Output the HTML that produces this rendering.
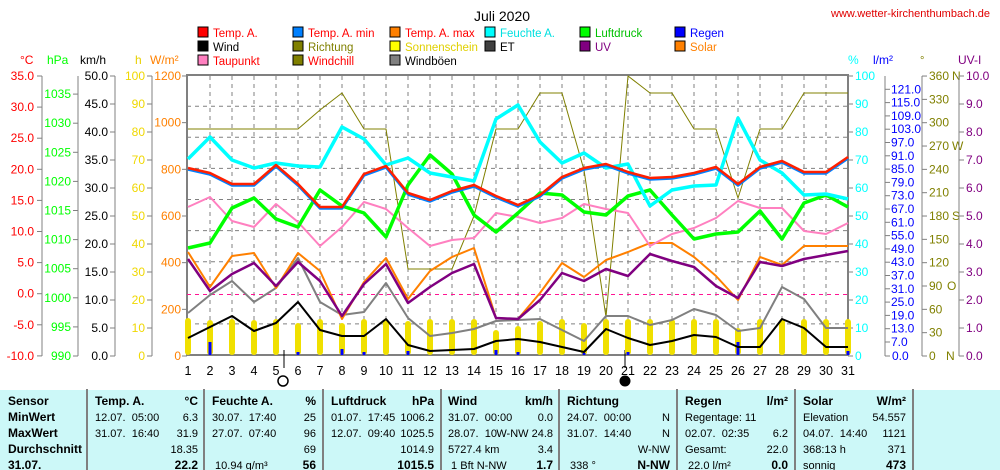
<!DOCTYPE html>
<html><head><meta charset="utf-8"><style>
body{margin:0;background:#fff;width:1000px;height:470px;overflow:hidden}
svg{display:block;font-family:"Liberation Sans",Arial,sans-serif}
</style></head><body>
<svg id="s" width="1000" height="470" xmlns="http://www.w3.org/2000/svg"></svg>
<script>
const S=document.getElementById('s');let h='';
const X=d=>188+(d-1)*22;
function T(x,y,t,c,sz,anc,w){h+=`<text x="${x}" y="${y}" fill="${c}" font-size="${sz||12}" text-anchor="${anc||'start'}" ${w?'font-weight="bold"':''}>${t}</text>`;}
function L(x1,y1,x2,y2,c,w,da){h+=`<line x1="${x1}" y1="${y1}" x2="${x2}" y2="${y2}" stroke="${c}" stroke-width="${w||1}" ${da?`stroke-dasharray="${da}"`:''}/>`;}
function P(arr,c,w){h+=`<polyline fill="none" stroke="${c}" stroke-width="${w}" stroke-linejoin="round" points="${arr.map((y,i)=>X(i+1)+','+y).join(' ')}"/>`;}
T(502,21,'Juli 2020','#000',14,'middle');
T(990,17,'www.wetter-kirchenthumbach.de','#e00000',11,'end');
const leg=[[198,37,'#ff0000','Temp. A.','#ff0000'],[293,37,'#0080ff','Temp. A. min','#ff0000'],[390,37,'#ff8000','Temp. A. max','#ff0000'],[485,37,'#00ffff','Feuchte A.','#00e0e0'],[580,37,'#00ff00','Luftdruck','#00c000'],[675,37,'#0000ff','Regen','#0000ff'],
[198,51,'#000000','Wind','#000'],[293,51,'#808000','Richtung','#808000'],[390,51,'#ffff00','Sonnenschein','#e0d000'],[485,51,'#404040','ET','#000'],[580,51,'#800080','UV','#800080'],[675,51,'#ff8000','Solar','#ff8000'],
[198,65,'#ff80c0','Taupunkt','#ff0000'],[293,65,'#808000','Windchill','#ff0000'],[390,65,'#808080','Windböen','#000']];
leg.forEach(l=>{h+=`<rect x="${l[0]}" y="${l[1]-10}" width="10" height="10" fill="${l[2]}" stroke="#000" stroke-width="1"/>`;T(l[0]+15,l[1],l[3],l[4],11.5);});
T(20,64,'°C','#ff0000');T(47,64,'hPa','#00ff00');T(80,64,'km/h','#000');T(135,64,'h','#e8d000');T(150,64,'W/m²','#ff8000');
T(848,64,'%','#00ffff');T(873,64,'l/m²','#0000ff');T(920,64,'°','#808000',11);T(958,64,'UV-I','#800080');
for(let d=2;d<=30;d++)L(X(d),76,X(d),355,'#808080',1,'4,4');
for(let k=1;k<9;k++){if(k==2)continue;let y=355-k*31.1;L(187,y,848,y,'#808080',1,'4,4');}
h+=`<rect x="187" y="75" width="661" height="280" fill="none" stroke="#808080" stroke-width="2"/>`;
const F=12;
L(42,76,42,356,'#808080');for(let i=0;i<10;i++){let y=76+i*31.1,v=35-5*i;L(37,y,42,y,'#808080');T(34,y+4,v.toFixed(1),'#ff0000',F,'end');}
L(78,76,78,356,'#808080');for(let i=0;i<10;i++){let y=356-i*29.1,v=990+5*i;L(73,y,78,y,'#808080');T(71,y+4,v,'#00ff00',F,'end');}
L(115,76,115,356,'#808080');for(let i=0;i<11;i++){let y=356-i*28;L(110,y,115,y,'#808080');T(108,y+4,(5*i).toFixed(1),'#000',F,'end');}
L(152,76,152,356,'#808080');for(let i=0;i<11;i++){let y=356-i*28;L(147,y,152,y,'#808080');T(145,y+4,10*i,'#f0d800',F,'end');}
for(let i=0;i<7;i++){let y=356-i*46.67;L(182,y,187,y,'#808080');T(181,y+4,200*i,'#ff8000',F,'end');}
for(let i=0;i<11;i++){let y=356-i*28;L(848,y,853,y,'#808080');T(855,y+4,10*i,'#00ffff',F);}
L(885,76,885,356,'#808080');L(885,356,890,356,'#808080');T(892,360,'0.0','#0000ff',F);
for(let i=0;i<20;i++){let y=342-i*13.3;L(885,y,890,y,'#808080');T(891,y+4,(7+6*i).toFixed(1),'#0000ff',F);}
L(922,76,922,356,'#808080');
for(let i=0;i<13;i++){let y=356-i*23.33;L(922,y,927,y,'#808080');T(929,y+4,String(30*i),'#808000',F);if(i==0)T(946,y+4,'N','#808000',F);if(i==3)T(947,y+4,'O','#808000',F);if(i==6)T(952,y+4,'S','#808000',F);if(i==9)T(952,y+4,'W','#808000',F);if(i==12)T(952,y+4,'N','#808000',F);}
L(959,76,959,356,'#808080');for(let i=0;i<11;i++){let y=356-i*28;L(959,y,964,y,'#808080');T(966,y+4,i.toFixed(1),'#800080',F);}
for(let d=1;d<=31;d++)T(X(d),375,d,'#000',12.5,'middle');
L(284,350,284,368,'#000');h+=`<circle cx="283" cy="381" r="5" fill="none" stroke="#000" stroke-width="1.5"/>`;
L(625,350,625,368,'#000');h+=`<circle cx="625" cy="381" r="5" fill="#000" stroke="#000"/>`;
const sun=[318,320,319,320,319,323,319,323,319,320,321,319,319,319,330,326,321,319,323,319,319,319,319,319,319,328,319,319,319,319,319];
sun.forEach((y,i)=>h+=`<rect x="${X(i+1)-3}" y="${y}" width="6" height="${355-y}" rx="3" fill="#f0e000"/>`);
const rain={2:342,6:352,8:349,9:352,11:351,15:350,16:352,19:353,21:352,26:342,31:351};
for(const d in rain)h+=`<rect x="${X(+d)-1.5}" y="${rain[d]}" width="3" height="${355-rain[d]}" fill="#0000ff"/>`;
L(187,294.5,848,294.5,'#ff1493',1,'4,4');
P([129,129,129,129,129,129,110,93,129,129,269,269,269,216,129,129,93,93,170,317,76,93,93,129,129,198,129,129,93,93,93],'#808000',1);
P([313,295,281,302,288,258,302,315,312,283,318,336,333,329,321,320,319,330,341,316,316,325,320,309,315,331,328,287,299,328,328],'#808080',2);
P([338,327,316,331,323,302,330,336,336,319,345,351,350,349,341,339,342,347,352,329,338,345,341,335,337,347,347,319,328,347,347],'#000',2);
P([252,287,256,253,288,253,271,319,282,258,299,271,257,248,318,319,293,263,277,260,252,243,243,257,276,300,257,265,246,246,246],'#ff8000',2);
P([259,291,274,263,286,262,281,316,284,264,303,287,273,264,318,319,300,273,281,269,276,254,261,267,286,298,262,266,259,255,251],'#800080',2.5);
P([207,197,221,227,204,222,246,227,202,209,228,246,240,238,213,217,223,218,204,209,213,246,234,228,218,201,208,208,231,234,223],'#ff80c0',2);
P([248,243,208,198,219,227,190,206,213,237,185,155,174,215,232,213,193,195,212,215,196,190,215,239,234,232,211,239,203,195,207],'#00ff00',3.5);
P([159,137,160,168,163,166,167,127,139,165,158,173,177,181,119,105,142,163,153,168,164,206,190,186,185,118,160,173,195,194,199],'#00ffff',3.5);
const tmp=[168,173,184,184,165,184,207,207,174,166,193,200,191,185,196,205,195,177,168,164,172,178,177,173,167,184,167,161,172,172,157];
P(tmp.map(y=>y+1.5),'#0080ff',2.5);P(tmp,'#ff2000',2.5);
h+=`<rect x="0" y="389" width="1000" height="81" fill="#ccf8f8"/>`;L(0,389,1000,389,'#fff',2);
[87,204,323,441,559,677,795,913].forEach(x=>L(x,389,x,470,'#808080',2));
const rows=[401,417,433,449,465];
const tb=[null,
[95,198,[['Temp. A.','°C',1],['12.07.  05:00','6.3'],['31.07.  16:40','31.9'],['','18.35'],['','22.2',2]]],
[212,316,[['Feuchte A.','%',1],['30.07.  17:40','25'],['27.07.  07:40','96'],['','69'],[' 10.94 g/m³','56',2]]],
[331,434,[['Luftdruck','hPa',1],['01.07.  17:45','1006.2'],['12.07.  09:40','1025.5'],['','1014.9'],['','1015.5',2]]],
[448,553,[['Wind','km/h',1],['31.07.  00:00','0.0'],['28.07.  10','W-NW 24.8'],['5727.4 km','3.4'],[' 1 Bft N-NW','1.7',2]]],
[567,670,[['Richtung','',1],['24.07.  00:00','N'],['31.07.  14:40','N'],['','W-NW'],[' 338 °','N-NW',2]]],
[685,788,[['Regen','l/m²',1],['Regentage: 11',''],['02.07.  02:35','6.2'],['Gesamt:','22.0'],[' 22.0 l/m²','0.0',2]]],
[803,906,[['Solar','W/m²',1],['Elevation','54.557'],['04.07.  14:40','1121'],['368:13 h','371'],['sonnig','473',2]]]];
['Sensor','MinWert','MaxWert','Durchschnitt','31.07.'].forEach((t,i)=>T(8,rows[i]+4,t,'#000',12,'start',1));
for(let c=1;c<tb.length;c++){const [xl,xr,r]=tb[c];r.forEach((e,i)=>{const y=rows[i]+4;h+=`<text x="${xl}" y="${y}" xml:space="preserve" ${e[2]==1?'font-weight="bold" font-size="12"':'font-size="11"'}>${e[0]}</text>`;T(xr,y,e[1],'#000',e[2]?12:11,'end',e[2]);});}
S.innerHTML=h;
</script>
</body></html>
